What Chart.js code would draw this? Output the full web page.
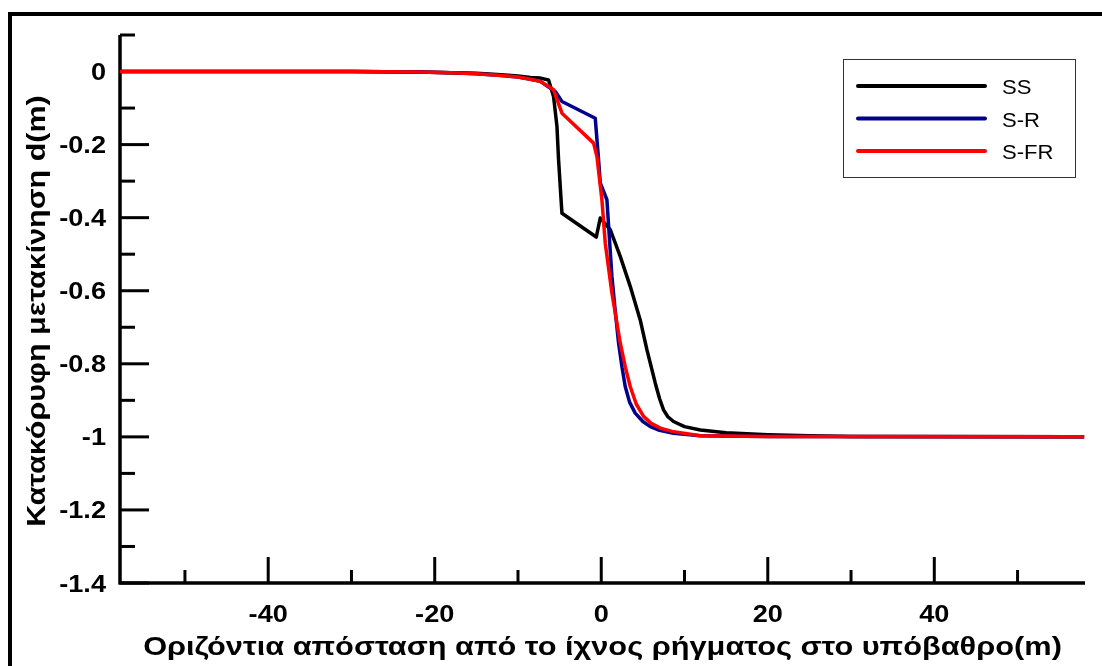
<!DOCTYPE html>
<html>
<head>
<meta charset="utf-8">
<script src="https://cdn.jsdelivr.net/npm/chart.js@4.4.1/dist/chart.umd.min.js"></script>
<style>
  html, body { margin: 0; padding: 0; background: #fff; }
  #wrap { width: 1102px; height: 666px; }
</style>
</head>
<body>
<div id="wrap"><canvas id="dispChart" width="1102" height="666"></canvas></div>
<script>
// horizontal distance (m) and vertical displacement d (m) for each model
const xSS = [-58, -30, -22, -18, -15, -12, -10, -8.5, -7.3, -6.33, -5.73, -5.32, -5.13, -4.72, -0.6, -0.12, 1.08, 2.28, 3.48, 4.68, 5.49, 6.49, 7.0, 7.48, 8.0, 8.68, 10, 11.9, 15, 20, 25, 30, 58];
const ySS = [0, 0, -0.001, -0.003, -0.005, -0.009, -0.012, -0.016, -0.018, -0.023, -0.068, -0.15, -0.24, -0.388, -0.453, -0.401, -0.433, -0.506, -0.588, -0.68, -0.762, -0.853, -0.895, -0.926, -0.945, -0.958, -0.972, -0.981, -0.989, -0.994, -0.997, -0.999, -1.0];

const xSR = [-58, -30, -22, -18, -15, -12, -10, -8.5, -7.3, -6.5, -5.5, -4.72, -0.72, -0.32, -0.12, 0.68, 1.28, 1.7, 2.08, 2.5, 2.88, 3.4, 4.08, 5.0, 5.89, 7.0, 8.68, 11.9, 20, 58];
const ySR = [0, 0, -0.001, -0.003, -0.006, -0.011, -0.015, -0.021, -0.027, -0.04, -0.055, -0.082, -0.128, -0.242, -0.305, -0.351, -0.561, -0.66, -0.743, -0.81, -0.862, -0.905, -0.935, -0.958, -0.972, -0.982, -0.99, -0.997, -0.999, -1.0];

const xSFR = [-58, -30, -22, -18, -15, -12, -10, -8.5, -7.3, -6.5, -5.73, -4.72, -0.92, -0.52, 0.08, 0.48, 1.28, 2.28, 2.9, 3.48, 4.2, 5.08, 6.0, 7.09, 8.5, 9.89, 11.9, 20, 58];
const ySFR = [0, 0, -0.001, -0.003, -0.006, -0.011, -0.015, -0.021, -0.027, -0.038, -0.05, -0.114, -0.196, -0.233, -0.351, -0.47, -0.606, -0.743, -0.81, -0.862, -0.91, -0.944, -0.963, -0.976, -0.985, -0.99, -0.997, -0.999, -1.0];

const seriesNames = ['SS', 'S-R', 'S-FR'];
const seriesColors = ['#000000', '#00008b', '#ff0000'];

const xTitle = 'Οριζόντια απόσταση από το ίχνος ρήγματος στο υπόβαθρο(m)';
const yTitle = 'Κατακόρυφη μετακίνηση d(m)';

const FONT = "Arial, 'Liberation Sans', sans-serif";
const STRETCH = 1.2;   // glyphs are drawn a little wider than the font

function toPoints(xs, ys) {
    return xs.map((x, i) => ({ x: x, y: ys[i] }));
}

function fmt(v) {
    const r = Math.round(v * 10) / 10;
    return (r === 0 ? 0 : r).toString();
}

// widened text helper
function wideText(ctx, text, x, y, sx, align) {
    const w = ctx.measureText(text).width * sx;
    let left = x;
    if (align === 'right') left = x - w;
    else if (align === 'center') left = x - w / 2;
    ctx.save();
    ctx.translate(left, y);
    ctx.scale(sx, 1);
    ctx.textAlign = 'left';
    ctx.fillText(text, 0, 0);
    ctx.restore();
}

const decorPlugin = {
    id: 'decor',
    beforeDraw(chart) {
        const ctx = chart.ctx;
        ctx.save();
        ctx.fillStyle = '#fff';
        ctx.fillRect(0, 0, chart.width, chart.height);
        ctx.strokeStyle = '#000';
        ctx.lineWidth = 4;
        ctx.strokeRect(10, 14, chart.width + 50, chart.height + 50);
        ctx.restore();
    },
    // axis lines with inward ticks
    beforeDatasetsDraw(chart) {
        const ctx = chart.ctx;
        const area = chart.chartArea;
        const xs = chart.scales.x, ys = chart.scales.y;
        ctx.save();
        ctx.strokeStyle = '#000';
        ctx.lineWidth = 3.5;
        ctx.beginPath();
        ctx.moveTo(area.left, area.top);
        ctx.lineTo(area.left, area.bottom + 1.5);
        ctx.moveTo(area.left - 1.5, area.bottom);
        ctx.lineTo(area.right, area.bottom);
        ctx.stroke();

        ctx.lineWidth = 3;
        ys.ticks.forEach(t => {
            const py = ys.getPixelForValue(t.value);
            const major = t.label !== '';
            ctx.beginPath();
            ctx.moveTo(area.left, py);
            ctx.lineTo(area.left + (major ? 29 : 15), py);
            ctx.stroke();
        });
        xs.ticks.forEach(t => {
            const px = xs.getPixelForValue(t.value);
            const major = t.label !== '';
            ctx.beginPath();
            ctx.moveTo(px, area.bottom);
            ctx.lineTo(px, area.bottom - (major ? 26 : 13));
            ctx.stroke();
        });
        ctx.restore();
    },
    // tick labels, axis titles and the boxed legend
    afterDraw(chart) {
        const ctx = chart.ctx;
        const area = chart.chartArea;
        const xs = chart.scales.x, ys = chart.scales.y;
        ctx.save();
        ctx.fillStyle = '#000';
        ctx.textBaseline = 'alphabetic';

        ctx.font = 'bold 23px ' + FONT;
        ys.ticks.forEach(t => {
            if (!t.label) return;
            wideText(ctx, t.label, 106, ys.getPixelForValue(t.value) + 8.5, STRETCH - 0.02, 'right');
        });
        xs.ticks.forEach(t => {
            if (!t.label) return;
            wideText(ctx, t.label, xs.getPixelForValue(t.value), 622, STRETCH - 0.02, 'center');
        });

        ctx.font = 'bold 25px ' + FONT;
        wideText(ctx, xTitle, (area.left + area.right) / 2, 655, STRETCH + 0.03, 'center');

        ctx.save();
        ctx.translate(45, 311);
        ctx.rotate(-Math.PI / 2);
        wideText(ctx, yTitle, 0, 0, STRETCH + 0.02, 'center');
        ctx.restore();

        const bx = 843, by = 59, bw = 232, bh = 118;
        ctx.lineWidth = 1;
        ctx.strokeStyle = '#333';
        ctx.strokeRect(bx + 0.5, by + 0.5, bw, bh);
        const rows = [86, 118.5, 151];
        ctx.font = '21px ' + FONT;
        chart.data.datasets.forEach((ds, i) => {
            ctx.strokeStyle = ds.borderColor;
            ctx.lineWidth = 4;
            ctx.lineCap = 'round';
            ctx.beginPath();
            ctx.moveTo(858, rows[i]);
            ctx.lineTo(985, rows[i]);
            ctx.stroke();
            ctx.fillStyle = '#000';
            wideText(ctx, ds.label, 1002, rows[i] + 8, 1.05, 'left');
        });
        ctx.restore();
    }
};

const datasets = [
    { label: seriesNames[0], data: toPoints(xSS, ySS), order: 3 },
    { label: seriesNames[1], data: toPoints(xSR, ySR), order: 2 },
    { label: seriesNames[2], data: toPoints(xSFR, ySFR), order: 1 }
].map((d, i) => Object.assign(d, {
    borderColor: seriesColors[i],
    backgroundColor: seriesColors[i],
    borderWidth: 3.5,
    borderJoinStyle: 'round',
    pointRadius: 0,
    tension: 0,
    fill: false,
    showLine: true
}));

const ctx = document.getElementById('dispChart').getContext('2d');
const dispChart = new Chart(ctx, {
    type: 'scatter',
    data: { datasets: datasets },
    options: {
        responsive: false,
        animation: false,
        devicePixelRatio: 1,
        layout: { padding: { left: 10, top: 35, right: 17, bottom: 0 } },
        plugins: {
            legend: { display: false },
            tooltip: { enabled: false }
        },
        scales: {
            x: {
                type: 'linear',
                min: -57.8,
                max: 58.1,
                grid: { display: false, drawTicks: false },
                border: { display: false },
                ticks: {
                    display: false,
                    stepSize: 10,
                    includeBounds: false,
                    autoSkip: false,
                    callback: v => (Math.round(v) % 20 === 0 ? fmt(v) : '')
                },
                afterFit(scale) { scale.height = 83; }
            },
            y: {
                type: 'linear',
                min: -1.4,
                max: 0.1,
                grid: { display: false, drawTicks: false },
                border: { display: false },
                ticks: {
                    display: false,
                    stepSize: 0.1,
                    includeBounds: false,
                    autoSkip: false,
                    callback: v => (Math.abs(Math.round(v * 10)) % 2 === 0 ? fmt(v) : '')
                },
                afterFit(scale) { scale.width = 110; }
            }
        }
    },
    plugins: [decorPlugin]
});
</script>
</body>
</html>
